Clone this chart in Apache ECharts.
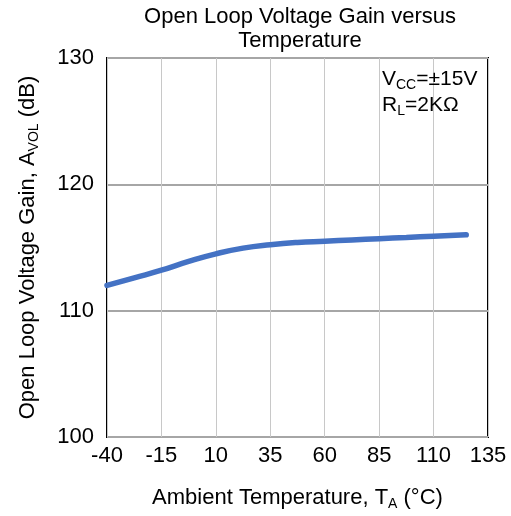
<!DOCTYPE html>
<html>
<head>
<meta charset="utf-8">
<script src="https://cdn.jsdelivr.net/npm/echarts@6/dist/echarts.min.js"></script>
<style>html,body{margin:0;padding:0;background:#fff}#c{width:511px;height:516px}</style>
</head>
<body>
<div id="c"></div>
<script>
// Data
const temps = [-40, -27.5, -15, -2.5, 10, 22.5, 35, 47.5, 60, 72.5, 85, 97.5, 110, 125];
const gainDb = [112.0, 112.6, 113.2, 113.9, 114.5, 114.95, 115.22, 115.4, 115.5, 115.6, 115.7, 115.8, 115.9, 116.0];
const xTicks = [-40, -15, 10, 35, 60, 85, 110, 135];
const yTicks = [100, 110, 120, 130];
const titleLines = ['Open Loop Voltage Gain versus', 'Temperature'];

const FONT = '"Liberation Sans", Arial, sans-serif';
const chart = echarts.init(document.getElementById('c'), null, {renderer: 'canvas'});
const gLeft = 107, gRight = 488, gTop = 58, gBottom = 437;

chart.setOption({
  animation: false,
  backgroundColor: '#fff',
  textStyle: {fontFamily: FONT, color: '#000'},
  grid: {left: gLeft, top: gTop, width: gRight - gLeft, height: gBottom - gTop,
         show: true, borderColor: '#000', borderWidth: 2, containLabel: false},
  xAxis: {
    type: 'value', min: xTicks[0], max: xTicks[xTicks.length - 1], interval: 25,
    axisLine: {show: false}, axisTick: {show: false},
    axisLabel: {fontSize: 22, color: '#000', margin: 8, fontFamily: FONT},
    splitLine: {show: true, lineStyle: {color: '#c8c8c8', width: 1}},
    name: '{m|Ambient Temperature, T}{s|A}{m| (°C)}',
    nameLocation: 'middle', nameGap: 48,
    nameTextStyle: {rich: {
      m: {fontSize: 22, fontFamily: FONT, color: '#000', lineHeight: 26},
      s: {fontSize: 14, fontFamily: FONT, color: '#000', verticalAlign: 'bottom'}
    }}
  },
  yAxis: {
    type: 'value', min: yTicks[0], max: yTicks[yTicks.length - 1], interval: 10,
    axisLine: {show: false}, axisTick: {show: false},
    axisLabel: {fontSize: 22, color: '#000', margin: 13, fontFamily: FONT},
    splitLine: {show: true, lineStyle: {color: '#a6a6a6', width: 2}},
    name: '{m|Open Loop Voltage Gain, A}{s|VOL}{m| (dB)}',
    nameLocation: 'middle', nameGap: 66,
    nameTextStyle: {rich: {
      m: {fontSize: 22, fontFamily: FONT, color: '#000', lineHeight: 26},
      s: {fontSize: 14, fontFamily: FONT, color: '#000', verticalAlign: 'bottom'}
    }}
  },
  graphic: [
    {type: 'text', x: 300, y: 5, z: 10,
     style: {text: titleLines.join('\n'), align: 'center', verticalAlign: 'top',
             font: '22px ' + FONT, lineHeight: 24, fill: '#000'}},
    {type: 'text', x: 382, y: 66, z: 10,
     style: {text: '{m|V}{s|CC}{m|=±15V}\n{m|R}{s|L}{m|=2KΩ}',
             rich: {m: {fontSize: 21, fontFamily: FONT, fill: '#000', lineHeight: 26},
                    s: {fontSize: 14, fontFamily: FONT, fill: '#000', verticalAlign: 'bottom'}},
             fill: '#000'}}
  ],
  series: [{
    type: 'line',
    data: temps.map((t, i) => [t, gainDb[i]]),
    smooth: 0.5,
    showSymbol: false,
    lineStyle: {color: '#4472C4', width: 5.5, cap: 'round'},
    z: 5
  }]
});
</script>
</body>
</html>
